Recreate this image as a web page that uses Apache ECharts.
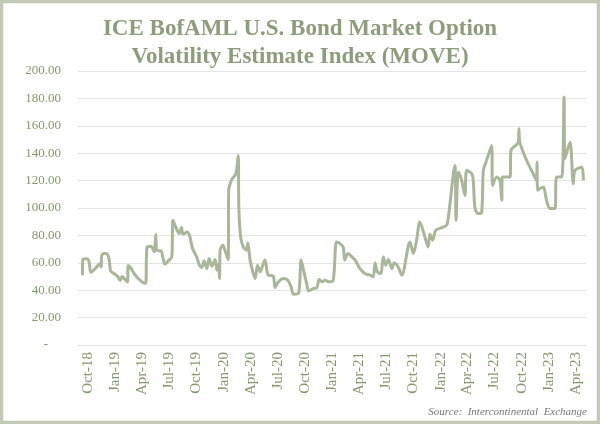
<!DOCTYPE html>
<html>
<head>
<meta charset="utf-8">
<script src="https://cdn.jsdelivr.net/npm/echarts@6/dist/echarts.min.js"></script>
<style>
  html, body { margin: 0; padding: 0; background: #ffffff; }
  #chart { width: 600px; height: 424px; }
</style>
</head>
<body>
<div id="chart"></div>
<script>
// ---- Data ----
const titleText = 'ICE BofAML U.S. Bond Market Option\nVolatility Estimate Index (MOVE)';
const sourceText = 'Source:  Intercontinental  Exchange';

const dates = [
  '2018-09-12','2018-09-13','2018-09-27','2018-10-04','2018-10-11','2018-10-30','2018-11-10','2018-11-14','2018-11-16','2018-11-25',
  '2018-12-06','2018-12-12','2018-12-16','2018-12-28','2019-01-09','2019-01-17','2019-01-24','2019-02-02','2019-02-11','2019-02-13',
  '2019-02-22','2019-03-06','2019-03-19','2019-04-05','2019-04-13','2019-04-18','2019-05-01','2019-05-12','2019-05-17','2019-05-21',
  '2019-06-04','2019-06-09','2019-06-17','2019-06-28','2019-07-10','2019-07-14','2019-07-24','2019-08-04','2019-08-12','2019-08-17',
  '2019-08-31','2019-09-09','2019-09-18','2019-10-02','2019-10-11','2019-10-19','2019-10-27','2019-11-05','2019-11-13','2019-11-22',
  '2019-12-03','2019-12-09','2019-12-14','2019-12-18','2019-12-20','2019-12-29','2020-01-05','2020-01-16','2020-01-18','2020-01-28',
  '2020-02-11','2020-02-19','2020-02-21','2020-02-27','2020-03-07','2020-03-18','2020-03-22','2020-03-30','2020-04-08','2020-04-16',
  '2020-04-24','2020-05-03','2020-05-14','2020-05-19','2020-05-30','2020-06-16','2020-06-22','2020-07-03','2020-07-20','2020-08-04',
  '2020-08-15','2020-08-23','2020-09-09','2020-09-18','2020-09-26','2020-10-07','2020-10-13','2020-10-30','2020-11-10','2020-11-18',
  '2020-11-27','2020-12-08','2020-12-19','2021-01-04','2021-01-15','2021-01-27','2021-02-07','2021-02-12','2021-02-23','2021-03-10',
  '2021-03-19','2021-04-04','2021-04-21','2021-05-08','2021-05-19','2021-05-25','2021-06-02','2021-06-13','2021-06-22','2021-06-30',
  '2021-07-09','2021-07-21','2021-07-29','2021-08-11','2021-08-23','2021-09-20','2021-10-01','2021-10-12','2021-10-23','2021-11-09',
  '2021-11-20','2021-11-26','2021-12-05','2021-12-16','2022-01-05','2022-01-21','2022-01-27','2022-02-18','2022-02-22','2022-03-02',
  '2022-03-13','2022-03-24','2022-03-30','2022-04-16','2022-04-21','2022-04-27','2022-05-08','2022-05-19','2022-05-25','2022-06-03',
  '2022-06-22','2022-06-25','2022-07-09','2022-07-20','2022-07-26','2022-07-28','2022-08-23','2022-08-26','2022-09-20','2022-09-22',
  '2022-09-25','2022-10-18','2022-11-09','2022-11-20','2022-11-22','2022-11-24','2022-12-13','2022-12-24','2023-01-05','2023-01-21',
  '2023-01-27','2023-02-13','2023-02-21','2023-02-24','2023-03-13','2023-03-24','2023-03-30','2023-04-22','2023-04-27'
];
const moveValues = [
  51, 62.4, 63, 61, 53, 57, 59.5, 57, 65.5, 67,
  66, 61, 54, 52, 50, 47, 50, 48, 46, 58,
  56, 52, 48.5, 45.4, 45, 71.6, 72, 68, 80.6, 69,
  68.7, 64.8, 59, 61.4, 64.3, 91, 85.7, 81.3, 85.7, 80.8,
  82.5, 79, 70.4, 64.3, 58.3, 56.6, 61.4, 55.8, 63.1, 57.5,
  62.4, 54.6, 59, 48.5, 69.2, 72.8, 69.2, 62.4, 112.9, 120.7,
  125, 138.4, 100.7, 78.9, 71.6, 69.2, 74.5, 62, 53.4, 48.5,
  58.3, 53.4, 59.9, 62, 51, 50.3, 42, 46, 48.5, 47.3,
  42.5, 37.1, 37.6, 62, 54.6, 44.4, 39.5, 41.3, 42, 47.8,
  46.1, 47.3, 46.1, 47.3, 75.2, 74, 71.2, 62, 66.8, 63.9,
  62, 55.8, 52.2, 51, 49.8, 59.9, 53.4, 52.2, 64.3, 58.3,
  62.4, 55.8, 59.9, 57, 51, 75.2, 66.8, 76.5, 89.8, 78.9,
  71.6, 80.8, 76.5, 83.8, 85.7, 87.4, 93, 131, 91, 126.2,
  120.2, 109.2, 127.5, 125, 120.2, 99.6, 96, 96.4, 127.5, 133.5,
  145.7, 116.5, 122.6, 120.2, 105.6, 122.6, 122.6, 142, 148, 157.8,
  148, 134.7, 125, 120.2, 133.5, 113, 115.3, 105.6, 99.6, 99.6,
  122.6, 122.6, 180.8, 136, 148, 117.8, 127.5, 129.8, 120.2
];
const quarterTicks = [
  '2018-10-01','2019-01-01','2019-04-01','2019-07-01','2019-10-01','2020-01-01','2020-04-01',
  '2020-07-01','2020-10-01','2021-01-01','2021-04-01','2021-07-01','2021-10-01','2022-01-01',
  '2022-04-01','2022-07-01','2022-10-01','2023-01-01','2023-04-01'
];
const xMin = '2018-08-28';
const xMax = '2023-05-06';
const yMin = 0, yMax = 200, yStep = 20;

// ---- Chart ----
const monthNames = ['Jan','Feb','Mar','Apr','May','Jun','Jul','Aug','Sep','Oct','Nov','Dec'];
function ts(s) { const p = s.split('-').map(Number); return Date.UTC(p[0], p[1]-1, p[2]); }
const seriesData = dates.map((d, i) => [ts(d), moveValues[i]]);

const textColor = '#87976f';
const chart = echarts.init(document.getElementById('chart'), null, { renderer: 'canvas' });
chart.setOption({
  animation: false,
  backgroundColor: '#ffffff',
  title: {
    text: titleText,
    left: 'center',
    top: 10,
    textStyle: {
      fontFamily: '"Liberation Serif", serif',
      fontWeight: 'bold',
      fontSize: 23,
      lineHeight: 28,
      color: '#8d9c7b'
    }
  },
  grid: { left: 78, right: 14, top: 71, bottom: 79, containLabel: false },
  xAxis: {
    type: 'value',
    min: ts(xMin),
    max: ts(xMax),
    axisLine: { show: false },
    axisTick: { show: false },
    splitLine: { show: false },
    axisLabel: {
      customValues: quarterTicks.map(ts),
      rotate: 90,
      margin: 7,
      color: textColor,
      fontFamily: '"Liberation Serif", serif',
      fontSize: 15,
      formatter: function (v) {
        const d = new Date(v);
        return monthNames[d.getUTCMonth()] + '-' + String(d.getUTCFullYear()).slice(2);
      }
    }
  },
  yAxis: {
    type: 'value',
    min: yMin,
    max: yMax,
    interval: yStep,
    axisLine: { show: false },
    axisTick: { show: false },
    splitLine: { lineStyle: { color: '#e4e4e4', width: 1 } },
    axisLabel: {
      margin: 17,
      color: textColor,
      fontFamily: '"Liberation Serif", serif',
      fontSize: 13,
      formatter: function (v) { return v === 0 ? '-    ' : v.toFixed(2); }
    }
  },
  series: [{
    type: 'line',
    data: seriesData,
    smooth: 0.3,
    showSymbol: false,
    lineStyle: { color: '#a9b699', width: 3 }
  }],
  graphic: [
    {
      type: 'rect',
      silent: true,
      shape: { x: 1.5, y: 1.5, width: 597, height: 421 },
      style: { fill: 'none', stroke: '#c3cab5', lineWidth: 3.5 }
    },
    {
      type: 'text',
      silent: true,
      style: {
        text: sourceText,
        x: 587,
        y: 412,
        align: 'right',
        verticalAlign: 'middle',
        fontFamily: '"Liberation Serif", serif',
        fontStyle: 'italic',
        fontSize: 11,
        fill: '#777777'
      }
    }
  ]
});
</script>
</body>
</html>
